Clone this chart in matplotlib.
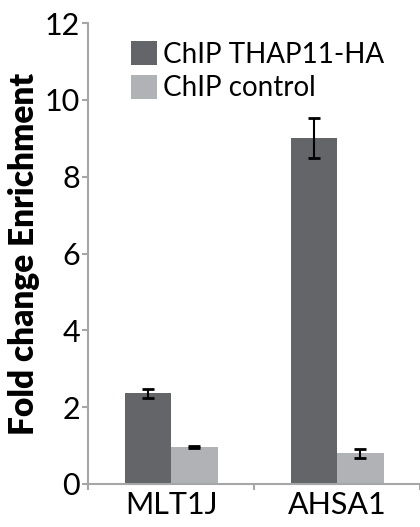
import numpy as np
import matplotlib
matplotlib.use("Agg")
import matplotlib.pyplot as plt

# data
genes = ["MLT1J", "AHSA1"]
thap11_ha = [2.36, 9.02]
thap11_ha_err = [0.12, 0.52]
control = [0.96, 0.80]
control_err = [0.02, 0.12]

plt.rcParams['font.family'] = ['Lato', 'DejaVu Sans']

fig = plt.figure(figsize=(4.2, 5.27), dpi=100)
ax = fig.add_axes([0.21, 0.0816, 0.79, 0.8744])

x = np.arange(len(genes))
w = 0.28
ax.bar(x - w / 2, thap11_ha, w, color='#646569', label='ChIP THAP11-HA', zorder=2)
ax.bar(x + w / 2, control, w, color='#b1b2b5', label='ChIP control', zorder=2)
ax.errorbar(x - w / 2, thap11_ha, yerr=thap11_ha_err, fmt='none', ecolor='black',
            elinewidth=1.5, capsize=4, capthick=2, zorder=3)
ax.errorbar(x + w / 2, control, yerr=control_err, fmt='none', ecolor='black',
            elinewidth=1.5, capsize=4, capthick=2, zorder=3)

ax.set_xlim(-0.5, 1.5)
ax.set_ylim(0, 12)
ax.set_yticks([0, 2, 4, 6, 8, 10, 12])
ax.set_xticks(x)
ax.set_xticklabels(genes)
ax.set_xticks([-0.5, 0.5, 1.5], minor=True)

for s in ['top', 'right']:
    ax.spines[s].set_visible(False)
for s in ['left', 'bottom']:
    ax.spines[s].set_color('#a6a6a6')
    ax.spines[s].set_linewidth(1.5)

ax.tick_params(axis='y', labelsize=22, color='#a6a6a6', width=1.5, length=4, pad=2)
ax.tick_params(axis='x', which='major', labelsize=22, length=0, pad=5)
ax.tick_params(axis='x', which='minor', color='#a6a6a6', width=1.5, length=4)

ax.set_ylabel('Fold change Enrichment', fontsize=24, fontweight='heavy', labelpad=3)

ax.legend(loc='upper left', bbox_to_anchor=(0.095, 0.985), fontsize=20, frameon=False,
          handlelength=0.95, handleheight=0.95, handletextpad=0.2, labelspacing=0.25,
          borderaxespad=0)

fig.savefig('out.png', dpi=100)
